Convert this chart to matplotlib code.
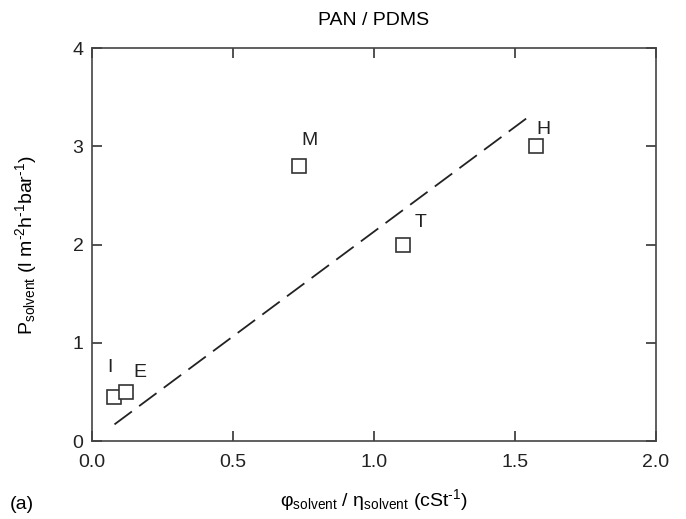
import numpy as np
import matplotlib
matplotlib.use("Agg")
import matplotlib.pyplot as plt

plt.rcParams['font.family'] = ['Liberation Sans', 'DejaVu Sans']
plt.rcParams['mathtext.fontset'] = 'custom'
plt.rcParams['mathtext.rm'] = 'Liberation Sans'
plt.rcParams['mathtext.it'] = 'Liberation Sans:italic'

# data
solvents = ["I", "E", "M", "T", "H"]
phi_eta = [0.08, 0.12, 0.735, 1.105, 1.575]
perm = [0.45, 0.50, 2.80, 2.00, 3.00]
# label offsets (data units)
lab_dx = [-0.015, 0.05, 0.035, 0.06, 0.025]
lab_dy = [0.30, 0.20, 0.26, 0.23, 0.17]

# fit through the origin
x = np.array(phi_eta)
y = np.array(perm)
slope = (x * y).sum() / (x * x).sum()
fit_x = np.array([0.08, 1.56])

fig = plt.figure(figsize=(6.86, 5.19), dpi=100)
ax = fig.add_axes([0.134, 0.150, 0.822, 0.757])

ax.plot(fit_x, slope * fit_x, color="#222222", lw=1.3, dashes=(12, 5))
ax.plot(x, y, ls="none", marker="s", ms=9.5, mfc="white", mec="#333333", mew=1.2)
for s, xi, yi, dx, dy in zip(solvents, phi_eta, perm, lab_dx, lab_dy):
    ax.text(xi + dx, yi + dy, s, fontsize=14, ha="center", va="center", color="#222222")

ax.set_xlim(0, 2.0)
ax.set_ylim(0, 4)
ax.set_xticks([0.0, 0.5, 1.0, 1.5, 2.0])
ax.set_xticklabels(["0.0", "0.5", "1.0", "1.5", "2.0"])
ax.set_yticks([0, 1, 2, 3, 4])
ax.tick_params(direction="in", length=7, width=1.1, top=True, right=True,
               labelsize=14, pad=6, colors="#222222")
ax.tick_params(axis="x", pad=9)
for sp in ax.spines.values():
    sp.set_linewidth(1.2)
    sp.set_color("#444444")

ax.set_title("PAN / PDMS", fontsize=14, pad=17)
ax.set_xlabel(r"φ$_{\mathrm{solvent}}$ / η$_{\mathrm{solvent}}$ (cSt$^{\text{-1}}$)", fontsize=14, labelpad=12)
ax.set_ylabel(r"P$_{\mathrm{solvent}}$ (l m$^{\text{-2}}$h$^{\text{-1}}$bar$^{\text{-1}}$)", fontsize=14, labelpad=24)
fig.text(0.014, 0.02, "(a)", fontsize=14)

fig.savefig("out.png", dpi=100)
